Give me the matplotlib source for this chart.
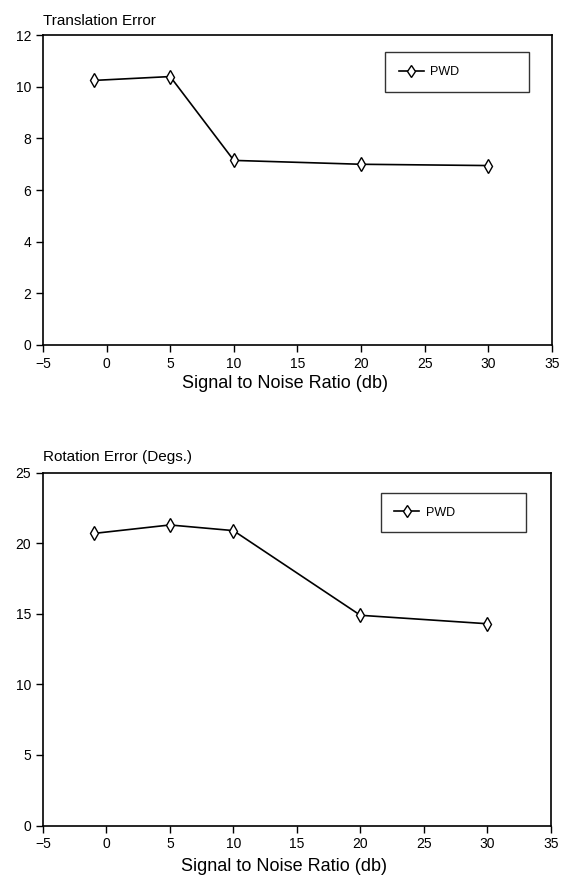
import matplotlib
matplotlib.use("Agg")
import matplotlib.pyplot as plt

plt.rcParams['font.family'] = ['Liberation Sans', 'DejaVu Sans']

snr = [-1, 5, 10, 20, 30]
translation_err = [10.25, 10.4, 7.15, 7.0, 6.95]
rotation_err = [20.7, 21.3, 20.9, 14.9, 14.3]

fig = plt.figure(figsize=(5.65, 8.82), dpi=100)
ax1 = fig.add_axes([0.076, 0.609, 0.901, 0.351])
ax2 = fig.add_axes([0.076, 0.064, 0.899, 0.400])

panels = [
    (ax1, translation_err, "Translation Error", (0, 12), range(0, 13, 2),
     (0.672, 0.80, 0.283, 0.145), -0.098),
    (ax2, rotation_err, "Rotation Error (Degs.)", (0, 25), range(0, 26, 5),
     (0.665, 0.81, 0.286, 0.133), -0.092),
]

for ax, vals, title, ylim, yticks, leg_box, lab_y in panels:
    ax.plot(snr, vals, color='black', lw=1.2, marker='d', markersize=7,
            markerfacecolor='white', markeredgecolor='black', markeredgewidth=1.0,
            label='PWD')
    ax.set_xlim(-5, 35)
    ax.set_ylim(*ylim)
    ax.set_xticks(range(-5, 36, 5))
    ax.set_yticks(list(yticks))
    ax.tick_params(direction='out', length=5, width=1, labelsize=10, colors='black')
    for s in ax.spines.values():
        s.set_linewidth(1.2)
    ax.set_xlabel("Signal to Noise Ratio (db)", fontsize=13)
    ax.xaxis.set_label_coords(0.475, lab_y)
    ax.text(0.0, 1.025, title, transform=ax.transAxes, ha='left', va='bottom', fontsize=11)
    leg = ax.legend(loc='upper left', bbox_to_anchor=leg_box, mode='expand', fontsize=9,
                    frameon=True, fancybox=False, edgecolor='black',
                    borderpad=1.1, handlelength=2.0, handletextpad=0.5,
                    borderaxespad=0, markerscale=0.85)
    leg.get_frame().set_linewidth(1.0)

fig.savefig("out.png", dpi=100)
